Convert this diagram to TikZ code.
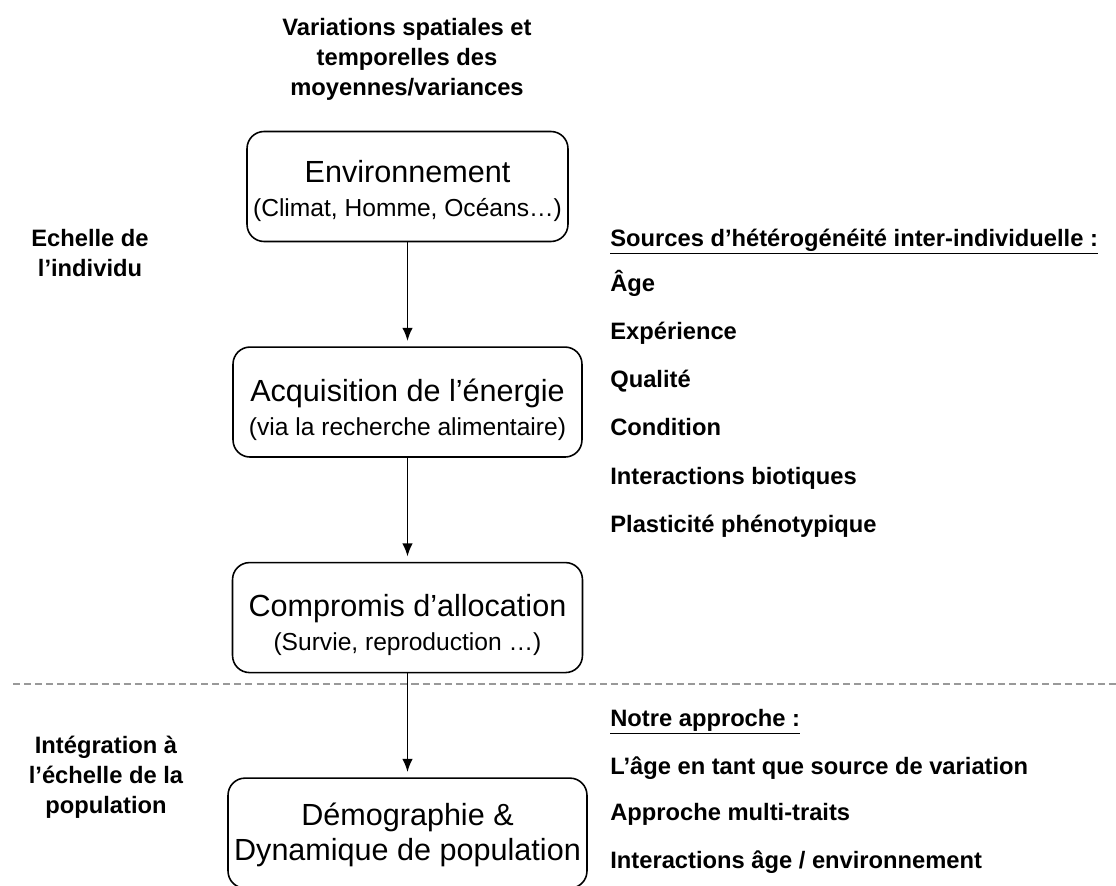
\documentclass[tikz,border=0pt]{standalone}
\usepackage{fontspec}
\setmainfont{Liberation Sans}
\usetikzlibrary{positioning, arrows.meta}

\begin{document}
\begin{tikzpicture}[x=0.02cm, y=-0.02cm]
\tikzset{
    stage/.style={
        draw=black,
        line width=0.9pt,
        rounded corners=0.34cm,
        minimum height=2.2cm,
    },
    bigtext/.style={
        font=\fontsize{17.4}{20}\selectfont,
        inner sep=0pt,
        anchor=base,
    },
    smalltext/.style={
        font=\fontsize{14}{17}\selectfont,
        inner sep=0pt,
        anchor=base,
    },
    sidetext/.style={
        font=\bfseries\fontsize{13.5}{17}\selectfont,
        align=center,
        inner sep=0pt,
    },
    listitem/.style={
        font=\bfseries\fontsize{13.5}{17}\selectfont,
        anchor=base west,
        inner sep=0pt,
    },
    flow/.style={
        ->,
        line width=1pt,
        shorten >=3pt,
    },
    >={Latex[length=7.5pt, width=6pt]},
    node distance=2.08cm,
}

    \useasboundingbox (0,0) rectangle (1116,886);

    \node[stage, minimum width=6.42cm] (env) at (407.5,186.5) {};
    \node[stage, minimum width=6.98cm] (acq) [below=of env] {};
    \node[stage, minimum width=7.0cm] (comp) [below=of acq] {};
    \node[stage, minimum width=7.18cm] (demo) [below=of comp] {};

    % "contents" of the boxes
    \node[bigtext] (envT) at ([yshift=-1.04cm]env.north) {Environnement};
    \node[smalltext] (envS) at ([yshift=-1.72cm]env.north) {(Climat, Homme, Océans…)};

    \node[bigtext] (acqT) at ([yshift=-1.1cm]acq.north) {Acquisition de l’énergie};
    \node[smalltext] (acqS) at ([yshift=-1.78cm]acq.north) {(via la recherche alimentaire)};

    \node[bigtext] (compT) at ([yshift=-1.1cm]comp.north) {Compromis d’allocation};
    \node[smalltext] (compS) at ([yshift=-1.78cm]comp.north) {(Survie, reproduction …)};

    \node[bigtext] (demoT) at ([yshift=-0.96cm]demo.north) {Démographie \&};
    \node[bigtext] (demoS) at ([yshift=-1.66cm]demo.north) {Dynamique de population};

    % arrows
    \draw[flow] (env) -- (acq);
    \draw[flow] (acq) -- (comp);
    \draw[flow] (comp) -- (demo);

    % separation of the two scales
    \coordinate (sepL) at (13,684);
    \coordinate (sepR) at (1116,684);
    \draw[gray!80, line width=0.6pt, dash pattern=on 4pt off 2.3pt] (sepL) -- (sepR);

    % labels on the left and on top
    \node[sidetext] (title) at (407,59) {Variations spatiales et\\temporelles des\\moyennes/variances};
    \node[sidetext] (indiv) at (90,253) {Echelle de\\l’individu};
    \node[sidetext] (popu) at (106,777) {Intégration à\\l’échelle de la\\population};

    % list on the right, upper part
    \node[listitem] (sources) at (610,246) {\underline{Sources d’hétérogénéité inter-individuelle :}};
    \node[listitem] (age) at (610,291) {Âge};
    \node[listitem] (exper) at (610,339) {Expérience};
    \node[listitem] (qual) at (610,387) {Qualité};
    \node[listitem] (cond) at (610,435) {Condition};
    \node[listitem] (inter) at (610,484) {Interactions biotiques};
    \node[listitem] (plast) at (610,532) {Plasticité phénotypique};

    % list on the right, lower part
    \node[listitem] (notre) at (610,726) {\underline{Notre approche :}};
    \node[listitem] (agesrc) at (610,774) {L’âge en tant que source de variation};
    \node[listitem] (multi) at (610,820) {Approche multi-traits};
    \node[listitem] (ageenv) at (610,868) {Interactions âge / environnement};

\end{tikzpicture}
\end{document}
